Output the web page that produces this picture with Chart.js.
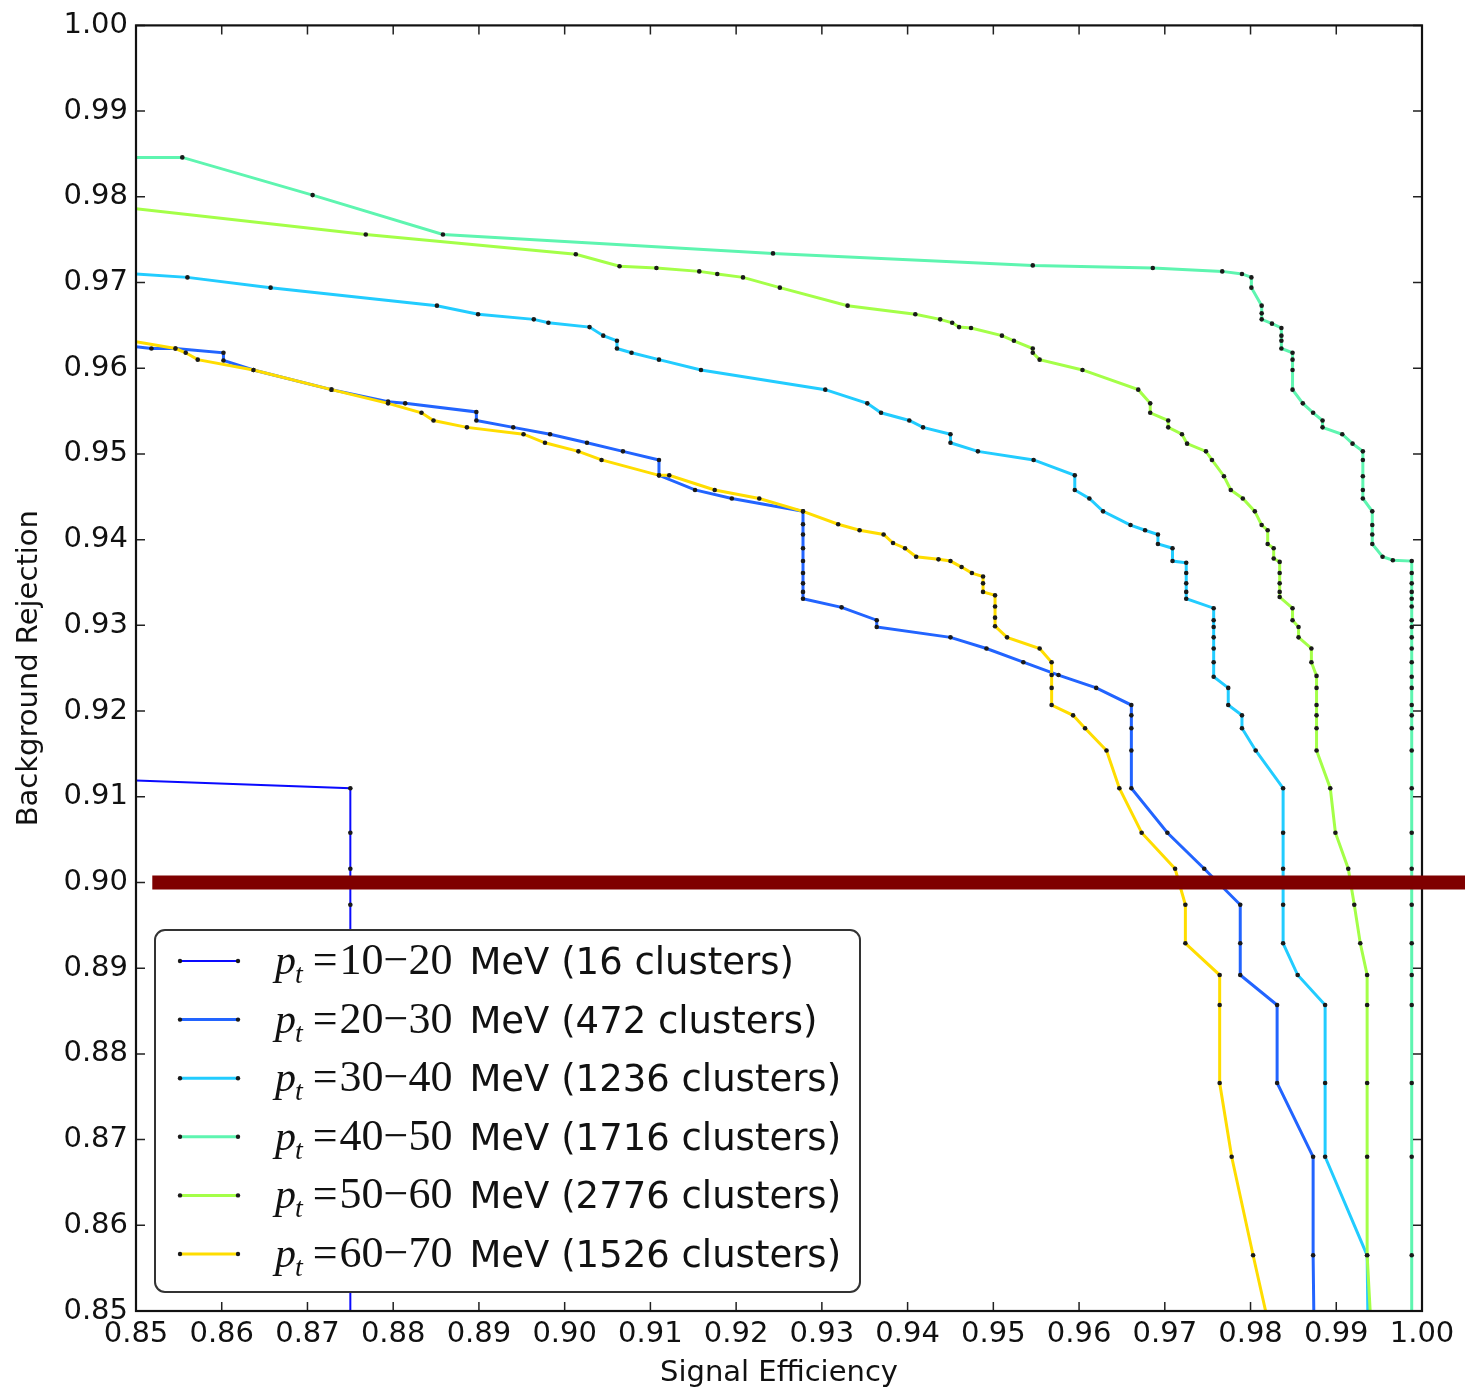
<!DOCTYPE html>
<html>
<head>
<meta charset="utf-8">
<script src="https://cdn.jsdelivr.net/npm/chart.js@4.4.1/dist/chart.umd.min.js"></script>
<style>
  body { margin: 0; background: #fff; }
  canvas { display: block; }
</style>
</head>
<body>
<canvas id="roc" width="1465" height="1391"></canvas>
<script>
// pt bins and cluster counts (legend)
const ptRanges = ['10\u221220', '20\u221230', '30\u221240', '40\u221250', '50\u221260', '60\u221270'];
const clusterCounts = [16, 472, 1236, 1716, 2776, 1526];

// signal efficiency (x) / background rejection (y) per bin
const eff10_20 = [0.85, 0.875, 0.875, 0.875, 0.875, 0.875];
const rej10_20 = [0.9119, 0.911, 0.9058, 0.9016, 0.8974, 0.84];

const eff20_30 = [0.85, 0.8518, 0.8546, 0.8602, 0.8602, 0.8637, 0.8728, 0.8794, 0.8814, 0.8897,
    0.8897, 0.894, 0.8983, 0.9026, 0.9068, 0.911, 0.911, 0.9152, 0.9195, 0.9278,
    0.9278, 0.9278, 0.9278, 0.9278, 0.9278, 0.9278, 0.9278, 0.9278,
    0.9323, 0.9364, 0.9364, 0.945, 0.9492, 0.9535, 0.9576, 0.962, 0.9661, 0.9661,
    0.9661, 0.9661, 0.9661, 0.9703, 0.9746, 0.9788, 0.9788, 0.9788, 0.9831, 0.9831,
    0.9873, 0.9873, 0.9875];
const rej20_30 = [0.9625, 0.9623, 0.9623, 0.9618, 0.9609, 0.9598, 0.9575, 0.9561, 0.9559, 0.9549,
    0.9539, 0.9531, 0.9523, 0.9513, 0.9503, 0.9493, 0.9475, 0.9458, 0.9448, 0.9433,
    0.9418, 0.9406, 0.939, 0.9375, 0.9361, 0.9349, 0.9339, 0.9331,
    0.9321, 0.9306, 0.9298, 0.9286, 0.9273, 0.9257, 0.9242, 0.9227, 0.9207, 0.9195,
    0.918, 0.9154, 0.911, 0.9058, 0.9016, 0.8974, 0.8929, 0.8892, 0.8857, 0.8766,
    0.868, 0.8565, 0.84];

const eff30_40 = [0.85, 0.856, 0.8657, 0.8851, 0.8899, 0.8964, 0.8981, 0.9029, 0.9045, 0.9061,
    0.9061, 0.9078, 0.911, 0.9159, 0.9304, 0.9353, 0.9369, 0.9402, 0.9418, 0.945,
    0.945, 0.9482, 0.9547, 0.9595, 0.9595, 0.9612, 0.9628, 0.966, 0.9677, 0.9692,
    0.9692, 0.9709, 0.9709, 0.9725, 0.9725, 0.9725, 0.9725, 0.9725, 0.9757, 0.9757,
    0.9757, 0.9757, 0.9757, 0.9757, 0.9757, 0.9774, 0.9774, 0.979, 0.979, 0.9806,
    0.9838, 0.9838, 0.9838, 0.9838, 0.9838, 0.9855, 0.9887, 0.9887, 0.9887, 0.9936,
    0.9938];
const rej30_40 = [0.971, 0.9706, 0.9694, 0.9673, 0.9663, 0.9657, 0.9653, 0.9648, 0.9638, 0.9632,
    0.9623, 0.9618, 0.961, 0.9598, 0.9575, 0.9559, 0.9548, 0.9539, 0.9531, 0.9523,
    0.9513, 0.9503, 0.9493, 0.9475, 0.9458, 0.9448, 0.9433, 0.9417, 0.9411, 0.9406,
    0.9395, 0.939, 0.9375, 0.9373, 0.9361, 0.9349, 0.9339, 0.9331, 0.932, 0.9306,
    0.9298, 0.9286, 0.9273, 0.9257, 0.924, 0.9227, 0.9207, 0.9195, 0.918, 0.9154,
    0.911, 0.9058, 0.9016, 0.8974, 0.8929, 0.8892, 0.8857, 0.8766, 0.868, 0.8565,
    0.84];

const eff40_50 = [0.85, 0.8554, 0.8706, 0.8858, 0.9243, 0.9546, 0.9686, 0.9767, 0.979, 0.9801,
    0.9801, 0.9813, 0.9813, 0.9813, 0.9825, 0.9836, 0.9836, 0.9836, 0.9836, 0.9849,
    0.9849, 0.9849, 0.9849, 0.9861, 0.9873, 0.9884, 0.9884, 0.9907, 0.9919, 0.9931,
    0.9931, 0.9931, 0.9931, 0.9931, 0.9942, 0.9942, 0.9942, 0.9942, 0.9954, 0.9966,
    0.9988, 0.9988, 0.9988, 0.9988, 0.9988, 0.9988, 0.9988, 0.9988, 0.9988, 0.9988,
    0.9988, 0.9988, 0.9988, 0.9988, 0.9988, 0.9988, 0.9988, 0.9988, 0.9988, 0.9988,
    0.9988, 0.9988, 0.9988, 0.9988, 0.9988, 0.9988, 0.9988, 0.9988];
const rej40_50 = [0.9846, 0.9846, 0.9802, 0.9756, 0.9734, 0.972, 0.9717, 0.9713, 0.971, 0.9706,
    0.9694, 0.9673, 0.9664, 0.9657, 0.9652, 0.9647, 0.9638, 0.9632, 0.9623, 0.9618,
    0.961, 0.9598, 0.9575, 0.9559, 0.9548, 0.9539, 0.9531, 0.9523, 0.9512, 0.9503,
    0.9493, 0.9474, 0.9458, 0.9448, 0.9433, 0.9417, 0.9406, 0.9395, 0.938, 0.9376,
    0.9375, 0.9361, 0.9349, 0.9339, 0.9331, 0.9322, 0.9306, 0.9298, 0.9286, 0.9273,
    0.9257, 0.924, 0.9227, 0.9207, 0.9195, 0.918, 0.9154, 0.911, 0.9058, 0.9016,
    0.8974, 0.8929, 0.8892, 0.8857, 0.8766, 0.868, 0.8565, 0.84];

const eff50_60 = [0.85, 0.8768, 0.9013, 0.9064, 0.9107, 0.9157, 0.9178, 0.9208, 0.9251, 0.933,
    0.9409, 0.9438, 0.9452, 0.946, 0.9474, 0.951, 0.9524, 0.9546, 0.9546, 0.9554,
    0.9604, 0.9669, 0.9683, 0.9683, 0.9704, 0.9704, 0.972, 0.9726, 0.9748, 0.9755,
    0.9769, 0.9777, 0.9791, 0.9805, 0.9813, 0.982, 0.982, 0.9827, 0.9827, 0.9834,
    0.9834, 0.9834, 0.9834, 0.9834, 0.9849, 0.9849, 0.9856, 0.9856, 0.9871, 0.9871,
    0.9877, 0.9877, 0.9877, 0.9877, 0.9877, 0.9877, 0.9893, 0.9899, 0.9914, 0.9921,
    0.9928, 0.9936, 0.9936, 0.9936, 0.9936, 0.9936, 0.9945];
const rej50_60 = [0.9786, 0.9756, 0.9733, 0.9719, 0.9717, 0.9713, 0.971, 0.9706, 0.9694, 0.9673,
    0.9663, 0.9657, 0.9653, 0.9648, 0.9647, 0.9638, 0.9632, 0.9623, 0.9618, 0.961,
    0.9598, 0.9575, 0.9559, 0.9548, 0.9539, 0.9531, 0.9523, 0.9512, 0.9503, 0.9493,
    0.9474, 0.9458, 0.9448, 0.9433, 0.9417, 0.9411, 0.9395, 0.939, 0.9378, 0.9374,
    0.9361, 0.9349, 0.9339, 0.9333, 0.932, 0.9306, 0.9298, 0.9286, 0.9273, 0.9257,
    0.9241, 0.9227, 0.9207, 0.9195, 0.918, 0.9154, 0.911, 0.9058, 0.9016, 0.8974,
    0.8929, 0.8892, 0.8857, 0.8766, 0.868, 0.8565, 0.84];

const eff60_70 = [0.85, 0.8546, 0.8558, 0.8572, 0.8637, 0.8728, 0.8794, 0.8833, 0.8847, 0.8886,
    0.8952, 0.8977, 0.9016, 0.9043, 0.911, 0.9122, 0.9175, 0.9227, 0.9278, 0.9319,
    0.9344, 0.9372, 0.9383, 0.9397, 0.941, 0.9436, 0.945, 0.9463, 0.9475, 0.9488,
    0.9488, 0.9488, 0.9502, 0.9502, 0.9502, 0.9502, 0.9516, 0.9554, 0.9568, 0.9568,
    0.9568, 0.9568, 0.9593, 0.9607, 0.9632, 0.9647, 0.9673, 0.9712, 0.9724, 0.9724,
    0.9764, 0.9764, 0.9764, 0.9778, 0.9803, 0.984];
const rej60_70 = [0.9631, 0.9623, 0.9618, 0.961, 0.9598, 0.9575, 0.9559, 0.9548, 0.9539, 0.9531,
    0.9523, 0.9513, 0.9503, 0.9493, 0.9475, 0.9475, 0.9458, 0.9448, 0.9433, 0.9418,
    0.9411, 0.9406, 0.9396, 0.939, 0.938, 0.9377, 0.9375, 0.9368, 0.9361, 0.9357,
    0.9349, 0.9339, 0.9335, 0.9322, 0.9309, 0.9299, 0.9286, 0.9273, 0.9257, 0.9242,
    0.9227, 0.9207, 0.9195, 0.918, 0.9154, 0.911, 0.9058, 0.9016, 0.8974, 0.8929,
    0.8892, 0.8857, 0.8766, 0.868, 0.8565, 0.84];

const cutRejection = 0.90;   // the red horizontal marker line

const effSeries = [eff10_20, eff20_30, eff30_40, eff40_50, eff50_60, eff60_70];
const rejSeries = [rej10_20, rej20_30, rej30_40, rej40_50, rej50_60, rej60_70];
const lineColors = ['#0a0aff', '#2264ff', '#22ccff', '#5ef5b0', '#a4ff48', '#ffdd00'];
const lineWidths = [2, 3, 3, 3, 3, 3];

const datasets = effSeries.map((xs, i) => ({
    label: 'pt=' + ptRanges[i] + ' MeV (' + clusterCounts[i] + ' clusters)',
    data: xs.map((x, j) => ({x: x, y: rejSeries[i][j]})),
    borderColor: lineColors[i],
    borderWidth: lineWidths[i],
    backgroundColor: '#1a1a1a',
    pointBackgroundColor: '#1a1a1a',
    pointBorderWidth: 0,
    pointRadius: ctx => (ctx.raw && ctx.raw.x <= 0.85) ? 0 : 2.3,
    tension: 0,
    fill: false,
    order: effSeries.length - i
}));

const FONT = '"DejaVu Sans", sans-serif';
const SERIF = '"Liberation Serif", serif';

// matplotlib-like frame, inward ticks, legend box and the red cut line
const decorations = {
    id: 'decorations',
    afterDatasetsDraw(chart) {
        const ctx = chart.ctx;
        const area = chart.chartArea;
        const xs = chart.scales.x, ys = chart.scales.y;
        ctx.save();
        ctx.strokeStyle = '#222';
        ctx.lineWidth = 1.5;
        const tl = 9;
        xs.ticks.forEach(t => {
            const px = xs.getPixelForValue(t.value);
            ctx.beginPath();
            ctx.moveTo(px, area.bottom); ctx.lineTo(px, area.bottom - tl);
            ctx.moveTo(px, area.top); ctx.lineTo(px, area.top + tl);
            ctx.stroke();
        });
        ys.ticks.forEach(t => {
            const py = ys.getPixelForValue(t.value);
            ctx.beginPath();
            ctx.moveTo(area.left, py); ctx.lineTo(area.left + tl, py);
            ctx.moveTo(area.right, py); ctx.lineTo(area.right - tl, py);
            ctx.stroke();
        });
        ctx.strokeStyle = '#111';
        ctx.lineWidth = 2.2;
        ctx.strokeRect(area.left, area.top, area.right - area.left, area.bottom - area.top);

        // legend
        const bx = area.left + 19, bw = 705, bh = 362;
        const by = area.bottom - 19 - bh;
        ctx.beginPath();
        ctx.roundRect(bx, by, bw, bh, 10);
        ctx.fillStyle = '#fff';
        ctx.fill();
        ctx.strokeStyle = '#333';
        ctx.lineWidth = 2;
        ctx.stroke();
        const rowGap = 58.6;
        chart.data.datasets.forEach((ds, i) => {
            const cy = by + 31 + i * rowGap;
            ctx.strokeStyle = ds.borderColor;
            ctx.lineWidth = ds.borderWidth;
            ctx.beginPath();
            ctx.moveTo(bx + 25, cy); ctx.lineTo(bx + 83, cy);
            ctx.stroke();
            ctx.fillStyle = '#1a1a1a';
            [bx + 25, bx + 83].forEach(px => {
                ctx.beginPath(); ctx.arc(px, cy, 2.2, 0, Math.PI * 2); ctx.fill();
            });
            const base = cy + 13;
            let tx = bx + 120;
            ctx.fillStyle = '#111';
            ctx.textBaseline = 'alphabetic';
            ctx.textAlign = 'left';
            ctx.font = 'italic 42px ' + SERIF;
            ctx.fillText('p', tx, base);
            tx += ctx.measureText('p').width - 1;
            ctx.font = 'italic 28px ' + SERIF;
            ctx.fillText('t', tx, base + 9);
            tx += ctx.measureText('t').width + 10;
            ctx.font = '44px ' + SERIF;
            ctx.fillText('=', tx, base);
            tx += ctx.measureText('=').width + 2;
            ctx.fillText(ptRanges[i], tx, base);
            tx += ctx.measureText(ptRanges[i]).width + 17;
            ctx.font = '37px ' + FONT;
            ctx.fillText('MeV (' + clusterCounts[i] + ' clusters)', tx, base);
        });

        // red cut line at the chosen rejection level
        const ry = ys.getPixelForValue(cutRejection);
        ctx.strokeStyle = '#7f0000';
        ctx.lineWidth = 14;
        ctx.beginPath();
        ctx.moveTo(xs.getPixelForValue(0.8519), ry);
        ctx.lineTo(chart.width, ry);
        ctx.stroke();
        ctx.restore();
    }
};

new Chart(document.getElementById('roc'), {
    type: 'line',
    data: {datasets: datasets},
    options: {
        responsive: false,
        animation: false,
        devicePixelRatio: 1,
        layout: {padding: {top: 25, right: 43, left: 0, bottom: 0}},
        plugins: {legend: {display: false}, tooltip: {enabled: false}},
        scales: {
            x: {
                type: 'linear',
                min: 0.85,
                max: 1.0,
                afterFit: s => { s.height = 80; },
                ticks: {
                    stepSize: 0.01,
                    autoSkip: false,
                    maxRotation: 0,
                    padding: 6,
                    color: '#111',
                    font: {family: FONT, size: 29},
                    callback: v => Number(v).toFixed(2)
                },
                grid: {display: false, drawTicks: false},
                border: {display: false},
                title: {
                    display: true,
                    text: 'Signal Efficiency',
                    color: '#111',
                    font: {family: FONT, size: 29},
                    padding: {top: 0, bottom: 0}
                }
            },
            y: {
                type: 'linear',
                min: 0.85,
                max: 1.0,
                afterFit: s => { s.width = 136; },
                ticks: {
                    stepSize: 0.01,
                    autoSkip: false,
                    padding: 8,
                    color: '#111',
                    font: {family: FONT, size: 29},
                    callback: v => Number(v).toFixed(2)
                },
                grid: {display: false, drawTicks: false},
                border: {display: false},
                title: {
                    display: true,
                    text: 'Background Rejection',
                    color: '#111',
                    font: {family: FONT, size: 29},
                    padding: {top: 12, bottom: 0}
                }
            }
        }
    },
    plugins: [decorations]
});
</script>
</body>
</html>
